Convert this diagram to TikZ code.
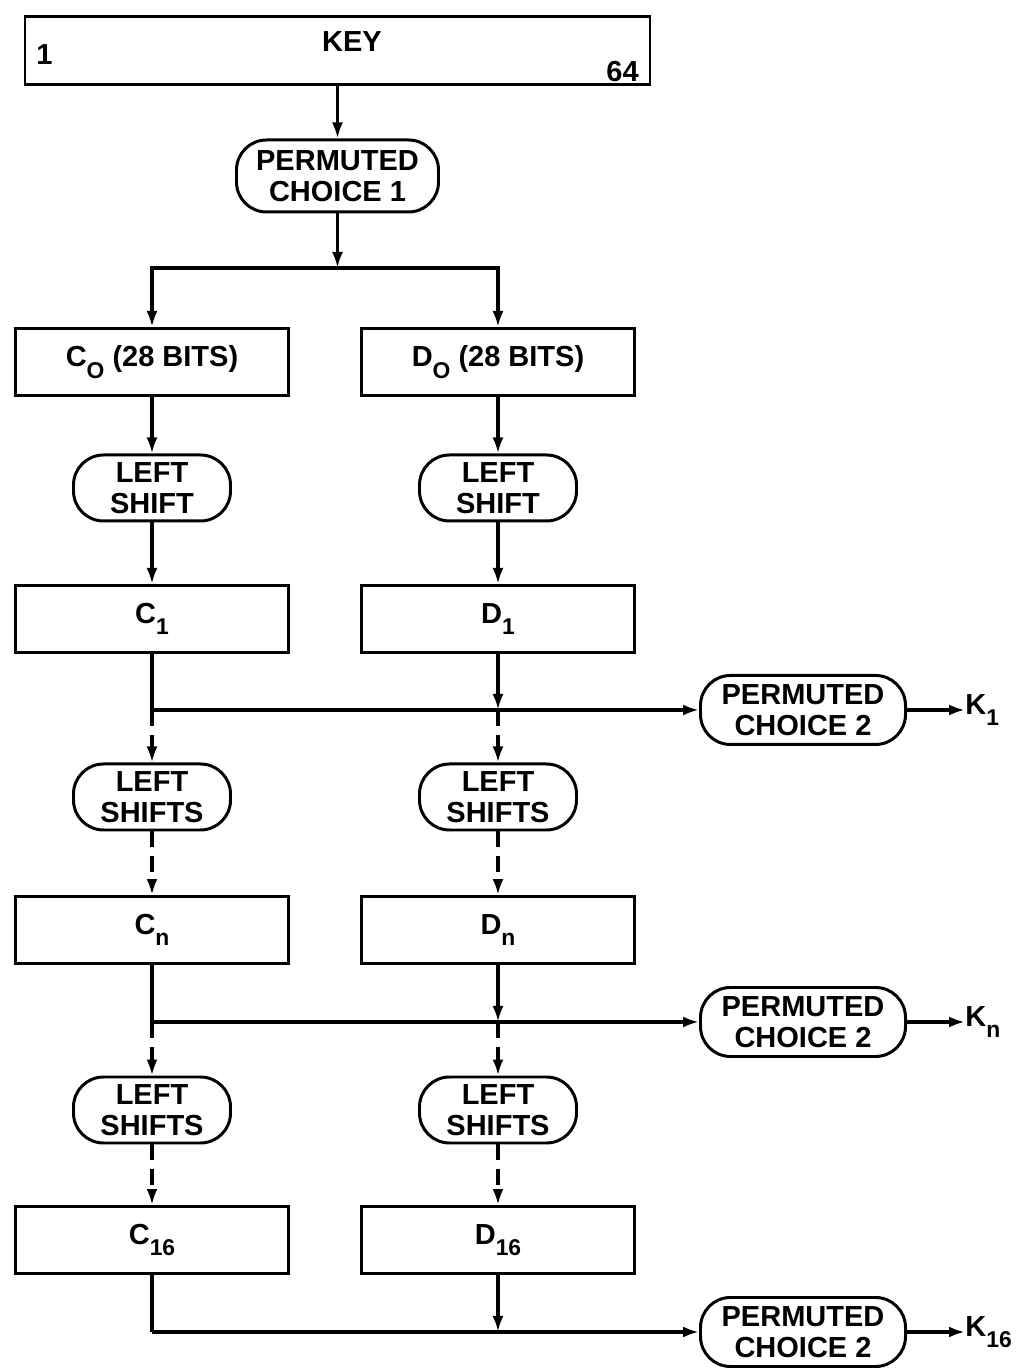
\documentclass[tikz,border=0pt]{standalone}
\usepackage{fontspec}
\setmainfont{Liberation Sans}
\usetikzlibrary{arrows.meta,positioning,calc}
\newcommand\lowsub[1]{\raisebox{-0.75ex}{\fontsize{13}{13}\selectfont #1}}
\tikzset{
  >=Latex,
  txt/.style={font=\fontsize{16.5}{17.5}\selectfont\bfseries,align=center,inner sep=0pt},
  regbox/.style={txt,draw,line width=1.7pt,minimum width=5.46cm,minimum height=1.34cm},
  pill/.style={txt,draw,line width=1.7pt,rounded corners=0.6cm,minimum width=3.14cm,minimum height=1.32cm},
  permbox/.style={pill,minimum width=4.1cm,minimum height=1.38cm},
  keyout/.style={txt,anchor=west},
  flow/.style={-{Latex[length=3.2mm,width=2.2mm]},line width=1.9pt},
  link/.style={line width=1.9pt},
  skip/.style={flow,dash pattern=on 9pt off 5pt}
}
\begin{document}
\begin{tikzpicture}[x=1cm,y=1cm]
  \useasboundingbox (0,0) rectangle (20.62,27.44);
  % key and first permutation
  \node[regbox,minimum width=12.5cm,minimum height=1.36cm] (key) at (6.75,26.42) {};
  \node[txt] (keytxt) at (7.04,26.6) {KEY};
  \node[txt,anchor=west] (bit1) at ([xshift=0.25cm,yshift=-0.08cm]key.west) {1};
  \node[txt,anchor=east] (bit64) at ([xshift=-0.25cm,yshift=-0.42cm]key.east) {64};
  \node[pill,minimum width=4.04cm,minimum height=1.44cm] (pc1) at (6.75,23.92) {PERMUTED\\CHOICE 1};
  \coordinate (split) at (6.75,22.08);
  % registers and shifts
  \node[regbox] (c0) at (3.04,20.2) {C\lowsub{O} (28 BITS)};
  \node[regbox] (d0) at (9.96,20.2) {D\lowsub{O} (28 BITS)};
  \node[pill] (ls1l) at (3.04,17.68) {LEFT\\SHIFT};
  \node[pill] (ls1r) at (9.96,17.68) {LEFT\\SHIFT};
  \node[regbox] (c1) at (3.04,15.06) {C\lowsub{1}};
  \node[regbox] (d1) at (9.96,15.06) {D\lowsub{1}};
  \node[permbox] (pc2a) at (16.06,13.24) {PERMUTED\\CHOICE 2};
  \node[keyout] (k1) at (19.3,13.24) {K\lowsub{1}};
  \node[pill] (ls2l) at (3.04,11.5) {LEFT\\SHIFTS};
  \node[pill] (ls2r) at (9.96,11.5) {LEFT\\SHIFTS};
  \node[regbox] (cn) at (3.04,8.84) {C\lowsub{n}};
  \node[regbox] (dn) at (9.96,8.84) {D\lowsub{n}};
  \node[permbox] (pc2b) at (16.06,7.0) {PERMUTED\\CHOICE 2};
  \node[keyout] (kn) at (19.3,7.0) {K\lowsub{n}};
  \node[pill] (ls3l) at (3.04,5.24) {LEFT\\SHIFTS};
  \node[pill] (ls3r) at (9.96,5.24) {LEFT\\SHIFTS};
  \node[regbox] (c16) at (3.04,2.64) {C\lowsub{16}};
  \node[regbox] (d16) at (9.96,2.64) {D\lowsub{16}};
  \node[permbox] (pc2c) at (16.06,0.8) {PERMUTED\\CHOICE 2};
  \node[keyout] (k16) at (19.3,0.8) {K\lowsub{16}};
  % join points
  \coordinate (j1) at (c1.south |- pc2a.west);
  \coordinate (m1) at (d1.south |- pc2a.west);
  \coordinate (j2) at (cn.south |- pc2b.west);
  \coordinate (m2) at (dn.south |- pc2b.west);
  \coordinate (j3) at (c16.south |- pc2c.west);
  \coordinate (m3) at (d16.south |- pc2c.west);
  % connectors
  \draw[flow] (key) -- (pc1);
  \draw[flow] (pc1) -- (split);
  \draw[flow] (split) -| (c0);
  \draw[flow] (split) -| (d0);
  \draw[flow] (c0) -- (ls1l);
  \draw[flow] (d0) -- (ls1r);
  \draw[flow] (ls1l) -- (c1);
  \draw[flow] (ls1r) -- (d1);
  \draw[link] (c1) -- (j1);
  \draw[flow] (j1) -- (pc2a);
  \draw[flow] (d1) -- (m1);
  \draw[flow] (pc2a) -- (k1);
  \draw[skip] (j1) -- (ls2l);
  \draw[skip] (m1) -- (ls2r);
  \draw[skip] (ls2l) -- (cn);
  \draw[skip] (ls2r) -- (dn);
  \draw[link] (cn) -- (j2);
  \draw[flow] (j2) -- (pc2b);
  \draw[flow] (dn) -- (m2);
  \draw[flow] (pc2b) -- (kn);
  \draw[skip] (j2) -- (ls3l);
  \draw[skip] (m2) -- (ls3r);
  \draw[skip] (ls3l) -- (c16);
  \draw[skip] (ls3r) -- (d16);
  \draw[link] (c16) -- (j3);
  \draw[flow] (j3) -- (pc2c);
  \draw[flow] (d16) -- (m3);
  \draw[flow] (pc2c) -- (k16);
\end{tikzpicture}
\end{document}
